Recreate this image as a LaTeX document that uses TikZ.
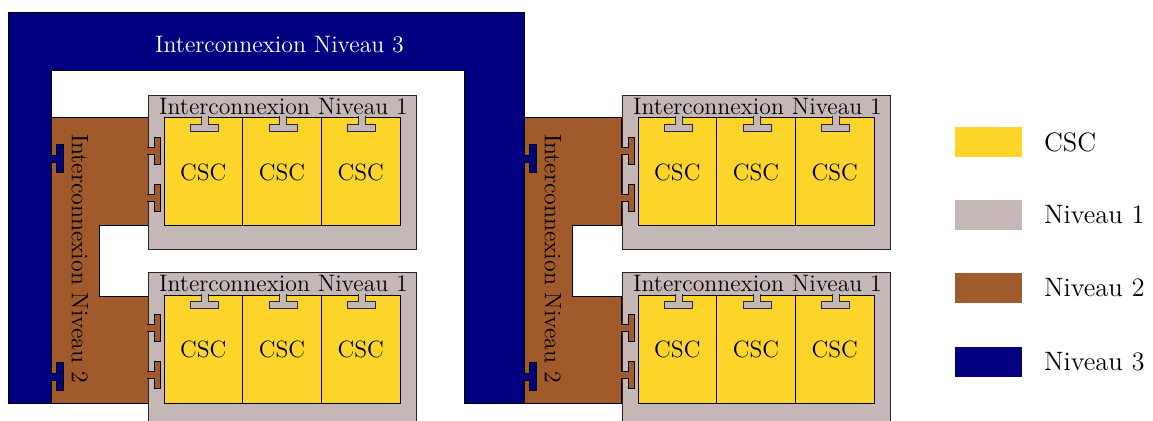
\documentclass[tikz,border=0pt]{standalone}
\usetikzlibrary{positioning}

\definecolor{cscjaune}{RGB}{253,213,42}
\definecolor{nivgris}{RGB}{198,183,183}
\definecolor{nivbrun}{RGB}{160,90,44}
\definecolor{nivbleu}{RGB}{0,0,128}

\begin{document}
\begin{tikzpicture}[x=0.5pt, y=-0.5pt, line width=0.5pt,
	niv1/.style={fill=nivgris, draw=black!85},
	niv2/.style={fill=nivbrun, draw=black},
	niv3/.style={fill=nivbleu, draw=black},
	csc/.style={draw=black, fill=cscjaune, inner sep=0pt,
		minimum width=39.33pt, minimum height=54pt, font=\fontsize{11.8}{14}\selectfont},
	titre/.style={inner sep=0pt, font=\fontsize{11.9}{14}\selectfont},
	legbox/.style={minimum width=33.5pt, minimum height=15pt, inner sep=0pt},
	legtxt/.style={inner sep=0pt, font=\fontsize{13.3}{16}\selectfont}]
	
	\useasboundingbox (0,0) rectangle (1153,421);
	
	% niveau 3
	\filldraw[niv3] (8,13) -- (524,13) -- (524,404) -- (464,404) -- (464,71)
		-- (51,71) -- (51,404) -- (8,404) -- cycle;
	\node[titre, text=white] (n3) at (279.5,45) {Interconnexion Niveau 3};
	
	% niveau 2 (deux blocs)
	\foreach \bx in {51,524} {
		\filldraw[niv2] (\bx,118) -- (\bx+97,118) -- (\bx+97,225.5) -- (\bx+48,225.5)
			-- (\bx+48,297) -- (\bx+97,297) -- (\bx+97,404) -- (\bx,404) -- cycle;
		\foreach \ty in {159,377}
			\filldraw[niv3] (\bx-1,\ty-3.5) -- (\bx+5,\ty-3.5) -- (\bx+5,\ty-14) -- (\bx+12,\ty-14)
				-- (\bx+12,\ty+14) -- (\bx+5,\ty+14) -- (\bx+5,\ty+3.5) -- (\bx-1,\ty+3.5);
		\node[titre, rotate=-90] (n2-\bx) at (\bx+29,258.5) {Interconnexion Niveau 2};
	}
	
	% niveau 1 + CSC
	\foreach \ox/\oy/\g in {148/95.5/a, 148/273/b, 622/95.5/c, 622/273/d} {
		\begin{scope}[shift={(\ox,\oy)}]
			\filldraw[niv1] (0,0) rectangle (268,154);
			\node[titre] (t-\g) at (135.5,10.5) {Interconnexion Niveau 1};
			\foreach \i in {0,1,2} {
				\node[csc] (\g-\i) at ({55.33+78.67*\i},76.5) {CSC};
				\filldraw[niv1] ({53+78.67*\i},21) -- ++(0,8) -- ++(-10.5,0) -- ++(0,7)
					-- ++(28,0) -- ++(0,-7) -- ++(-10.5,0) -- ++(0,-8);
			}
			\foreach \ty in {55.5,102.5}
				\filldraw[niv2] (-1,\ty-3.5) -- (6,\ty-3.5) -- (6,\ty-13.5) -- (12,\ty-13.5)
					-- (12,\ty+13.5) -- (6,\ty+13.5) -- (6,\ty+3.5) -- (-1,\ty+3.5);
		\end{scope}
	}
	
	% legende
	\foreach \c/\t/\ly [count=\k] in {cscjaune/CSC/142, nivgris/Niveau 1/215,
		nivbrun/Niveau 2/288, nivbleu/Niveau 3/362} {
		\node[legbox, fill=\c] (leg-\k) at (988.5,\ly) {};
		\node[legtxt, right=10.5pt of leg-\k] (legt-\k) {\t};
	}
	
\end{tikzpicture}
\end{document}
